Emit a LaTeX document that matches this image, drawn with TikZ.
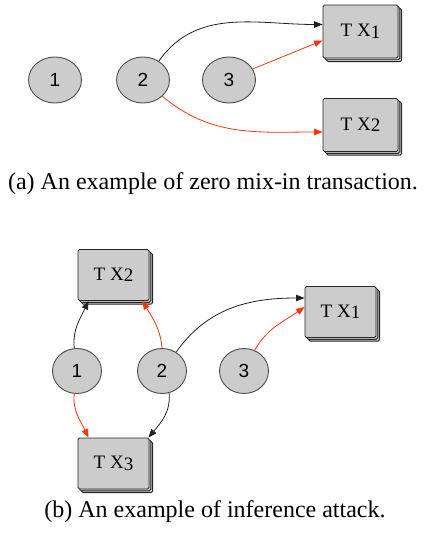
\documentclass[tikz,border=0pt]{standalone}
\usepackage{fontspec}
\setmainfont{Liberation Serif}
\newfontfamily\numfont{Liberation Sans}
\usetikzlibrary{shapes.geometric,arrows.meta,shadows}
\definecolor{nodefill}{HTML}{CCCCCC}
\definecolor{edgered}{HTML}{FF3311}
\definecolor{edgeblack}{HTML}{222222}
\tikzset{
  acct/.style={ellipse, draw=black!70, fill=nodefill, line width=0.9pt, inner sep=0pt,
    font=\numfont\fontsize{19}{19}\selectfont},
  acctA/.style={acct, minimum width=53pt, minimum height=46pt},
  acctB/.style={acct, minimum width=49pt, minimum height=45pt},
  txbox/.style={rectangle, rounded corners=1.5pt, draw=black!85, fill=nodefill, line width=0.9pt,
    inner sep=0pt, font=\fontsize{19}{19}\selectfont,
    double copy shadow={shadow xshift=1.8pt, shadow yshift=-1.8pt, fill=nodefill, draw=black!85, line width=0.9pt}},
  txA/.style={txbox, minimum width=75pt, minimum height=53pt},
  txB/.style={txbox, minimum width=71pt, minimum height=51pt},
  conn/.style={line width=0.8pt, -{Triangle[length=8.5pt,width=6.5pt]}},
  blk/.style={conn, draw=edgeblack},
  rd/.style={conn, draw=edgered},
  captext/.style={font=\fontsize{24}{24}\selectfont, anchor=base}
}
\newcommand{\txl}[1]{T X\raisebox{-1.5pt}{#1}}
\begin{document}
\begin{tikzpicture}[x=1pt,y=1pt]
\useasboundingbox (0,0) rectangle (427,-535);
% panel (a)
\node[acctA] (a1) at (55,-80) {1};
\node[acctA] (a2) at (143,-80) {2};
\node[acctA] (a3) at (229,-80) {3};
\node[txA] (at1) at (360.5,-31.5) {\txl{1}};
\node[txA] (at2) at (360.5,-125) {\txl{2}};
\draw[blk] (a2.50) to[out=55,in=180] ([yshift=7pt]at1.west);
\draw[rd] (a3.25) -- ([yshift=-9pt]at1.west);
\draw[rd] (a2.-40) to[out=-40,in=180] ([yshift=-7pt]at2.west);
\node[captext] (capa) at (213,-189) {(a) An example of zero mix-in transaction.};
% panel (b)
\node[acctB] (b1) at (77,-371) {1};
\node[acctB] (b2) at (162,-371) {2};
\node[acctB] (b3) at (244,-371) {3};
\node[txB] (bt2) at (113.5,-275) {\txl{2}};
\node[txB] (bt1) at (340.5,-312) {\txl{1}};
\node[txB] (bt3) at (113.5,-463.5) {\txl{3}};
\draw[blk] (b1.97) to[out=95,in=-115] ([xshift=-25pt]bt2.south);
\draw[rd] (b2.90) to[out=95,in=-60] ([xshift=29pt]bt2.south);
\draw[blk] (b2.53) to[out=55,in=180] ([yshift=14pt]bt1.west);
\draw[rd] (b3.63) to[out=60,in=-145] ([yshift=5pt]bt1.west);
\draw[rd] (b1.-97) to[out=-95,in=115] ([xshift=-25pt]bt3.north);
\draw[blk] (b2.-72) to[out=-85,in=50] ([xshift=-1pt]bt3.north east);
\node[captext] (capb) at (215,-517) {(b) An example of inference attack.};
\end{tikzpicture}
\end{document}
